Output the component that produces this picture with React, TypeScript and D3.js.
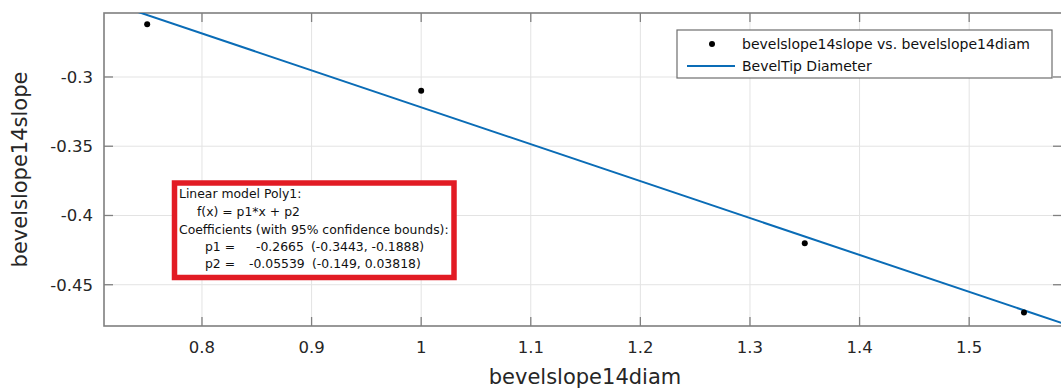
import React from "react";
import * as d3 from "d3";

const diam = [0.75, 1.0, 1.35, 1.55];
const slope = [-0.262, -0.31, -0.42, -0.47];
const xTicks = [0.8, 0.9, 1.0, 1.1, 1.2, 1.3, 1.4, 1.5];
const yTicks = [-0.3, -0.35, -0.4, -0.45];
const p1 = -0.2665;
const p2 = -0.05539;
const fitLines = [
  "Linear model Poly1:",
  "f(x) = p1*x + p2",
  "Coefficients (with 95% confidence bounds):",
];
const coefNames = ["p1 =", "p2 ="];
const coefVals = ["-0.2665", "-0.05539"];
const coefBounds = ["(-0.3443, -0.1888)", "(-0.149, 0.03818)"];

const W = 1061;
const H = 388;
const left = 104;
const right = 1062;
const top = 13;
const bottom = 326;

const App = () => {
  const x = d3.scaleLinear().domain([0.7106, 1.5847]).range([left, right]);
  const y = d3.scaleLinear().domain([-0.2538, -0.4798]).range([top, bottom]);

  const fitX = [0.7106, 1.5847];
  const line = d3
    .line<number>()
    .x((d) => x(d))
    .y((d) => y(p1 * d + p2));

  const font = "'DejaVu Sans', Verdana, sans-serif";
  const tickCol = "#262626";
  const boxFs = 12.4;

  return (
    <svg
      width={W}
      height={H}
      style={{ position: "absolute", left: 0, top: 0, background: "#fff" }}
      fontFamily={font}
    >
      <defs>
        <clipPath id="plot">
          <rect x={left} y={top} width={right - left} height={bottom - top} />
        </clipPath>
      </defs>
      {/* grid */}
      {xTicks.map((t) => (
        <line key={"gx" + t} x1={x(t)} x2={x(t)} y1={top} y2={bottom} stroke="#e3e3e3" strokeWidth={1} />
      ))}
      {yTicks.map((t) => (
        <line key={"gy" + t} x1={left} x2={right} y1={y(t)} y2={y(t)} stroke="#e3e3e3" strokeWidth={1} />
      ))}
      {/* ticks inward */}
      {xTicks.map((t) => (
        <g key={"tx" + t}>
          <line x1={x(t)} x2={x(t)} y1={bottom} y2={bottom - 9} stroke="#808080" strokeWidth={1.3} />
          <line x1={x(t)} x2={x(t)} y1={top} y2={top + 9} stroke="#808080" strokeWidth={1.3} />
          <text x={x(t)} y={353} textAnchor="middle" fontSize={16.5} fill={tickCol}>
            {String(+t.toFixed(2))}
          </text>
        </g>
      ))}
      {yTicks.map((t) => (
        <g key={"ty" + t}>
          <line x1={left} x2={left + 9} y1={y(t)} y2={y(t)} stroke="#808080" strokeWidth={1.3} />
          <line x1={right - 9} x2={right} y1={y(t)} y2={y(t)} stroke="#808080" strokeWidth={1.3} />
          <text x={93} y={y(t)} dy="0.35em" textAnchor="end" fontSize={16.5} fill={tickCol}>
            {String(t)}
          </text>
        </g>
      ))}
      {/* axes box */}
      <rect x={left} y={top} width={right - left} height={bottom - top} fill="none" stroke="#7f7f7f" strokeWidth={1.6} />
      {/* fit line */}
      <path d={line(fitX) || ""} fill="none" stroke="#0a6cb6" strokeWidth={2} clipPath="url(#plot)" />
      {/* data */}
      {diam.map((d, i) => (
        <circle key={"p" + i} cx={x(d)} cy={y(slope[i])} r={3} fill="#000" />
      ))}
      {/* legend */}
      <rect x={677} y={30} width={375} height={48} fill="#fff" stroke="#6e6e6e" strokeWidth={1.2} />
      <circle cx={712} cy={44} r={3} fill="#000" />
      <line x1={687} x2={735} y1={66} y2={66} stroke="#0a6cb6" strokeWidth={2} />
      <text x={742} y={49} fontSize={14} fill="#111">
        bevelslope14slope vs. bevelslope14diam
      </text>
      <text x={742} y={71} fontSize={14} fill="#111">
        BevelTip Diameter
      </text>
      {/* fit result box */}
      <rect x={174.5} y={183} width={279.5} height={94.5} fill="#fff" stroke="#e21b24" strokeWidth={5.5} />
      <text x={179} y={198} fontSize={boxFs} fill="#111">{fitLines[0]}</text>
      <text x={197} y={216} fontSize={boxFs} fill="#111">{fitLines[1]}</text>
      <text x={179} y={234} fontSize={boxFs} fill="#111">{fitLines[2]}</text>
      {coefNames.map((n, i) => (
        <g key={n}>
          <text x={205} y={251 + i * 17} fontSize={boxFs} fill="#111">{n}</text>
          <text x={i === 0 ? 256 : 249} y={251 + i * 17} fontSize={boxFs} fill="#111">{coefVals[i]}</text>
          <text x={i === 0 ? 311 : 312} y={251 + i * 17} fontSize={boxFs} fill="#111">{coefBounds[i]}</text>
        </g>
      ))}
      {/* axis labels */}
      <text x={585} y={384} textAnchor="middle" fontSize={21} fill={tickCol}>
        bevelslope14diam
      </text>
      <text
        transform={`translate(27,${(top + bottom) / 2}) rotate(-90)`}
        textAnchor="middle"
        fontSize={21}
        fill={tickCol}
      >
        bevelslope14slope
      </text>
    </svg>
  );
};

export default App;
